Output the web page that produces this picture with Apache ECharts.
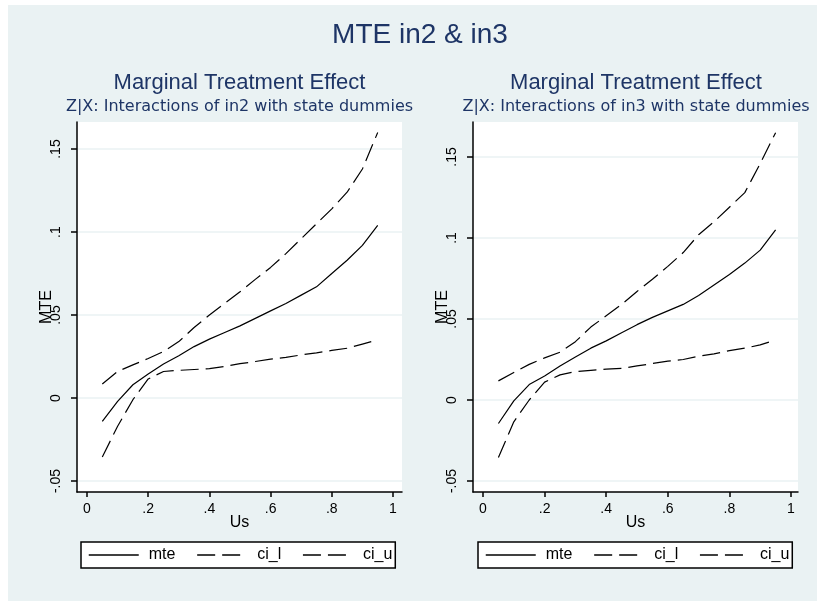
<!DOCTYPE html>
<html>
<head>
<meta charset="utf-8">
<title>MTE in2 & in3</title>
<script src="https://cdn.jsdelivr.net/npm/echarts@6/dist/echarts.min.js"></script>
<style>
  html, body { margin: 0; padding: 0; background: #fff; }
  #chart { width: 817px; height: 601px; }
</style>
</head>
<body>
<div id="chart"></div>
<script>
// grid of Us values the MTE was evaluated on
const us = [0.05, 0.10, 0.15, 0.20, 0.25, 0.30, 0.35, 0.40, 0.45, 0.50,
            0.55, 0.60, 0.65, 0.70, 0.75, 0.80, 0.85, 0.90, 0.95]

// left panel: Z|X = in2 x state dummies
const mteIn2 = [-0.014, -0.002, 0.008, 0.0145, 0.0205, 0.0255, 0.031, 0.0355, 0.0395, 0.0435,
                0.048, 0.0525, 0.057, 0.062, 0.067, 0.075, 0.083, 0.092, 0.104]
const ciLIn2 = [-0.0355, -0.017, -0.001, 0.0115, 0.016, 0.0167, 0.0172, 0.0177, 0.019, 0.0207,
                0.022, 0.0235, 0.0245, 0.026, 0.0272, 0.0287, 0.030, 0.0325, 0.035]
const ciUIn2 = [0.0085, 0.016, 0.020, 0.0238, 0.028, 0.034, 0.0425, 0.050, 0.057, 0.064,
                0.0715, 0.0787, 0.087, 0.096, 0.105, 0.114, 0.124, 0.138, 0.160]

// right panel: Z|X = in3 x state dummies
const mteIn3 = [-0.0145, -0.0005, 0.0095, 0.0148, 0.021, 0.0265, 0.032, 0.0365, 0.0415, 0.0465,
                0.051, 0.055, 0.059, 0.0645, 0.071, 0.0775, 0.0845, 0.0925, 0.105]
const ciLIn3 = [-0.0355, -0.0135, 0.000, 0.011, 0.0155, 0.0175, 0.0183, 0.019, 0.0195, 0.021,
                0.0225, 0.024, 0.025, 0.027, 0.0285, 0.0305, 0.032, 0.034, 0.037]
const ciUIn3 = [0.0118, 0.017, 0.022, 0.026, 0.0295, 0.036, 0.045, 0.052, 0.059, 0.067,
                0.0745, 0.0825, 0.091, 0.102, 0.110, 0.119, 0.128, 0.146, 0.165]

const xTicks = [0, 0.2, 0.4, 0.6, 0.8, 1]
const yTicks = [-0.05, 0, 0.05, 0.1, 0.15]
const seriesNames = ['mte', 'ci_l', 'ci_u']

const FONT = '"Liberation Sans", Arial, sans-serif'
const NAVY = '#1e3566'
const BG = '#eaf2f3'

// stata style labels: .2, -.05, 0, 1
function stataNum(v) {
  return String(+v.toFixed(2)).replace('0.', '.')
}

function pairs(ys) {
  return us.map((u, i) => [u, ys[i]])
}

const panels = [
  { sub: 'Z|X: Interactions of in2 with state dummies', left: 77, xr: [-0.0327, 1.0294], yr: [-0.0566, 0.1663],
    lines: [mteIn2, ciLIn2, ciUIn2], cx: 239.5, legendLeft: 81 },
  { sub: 'Z|X: Interactions of in3 with state dummies', left: 473, xr: [-0.0325, 1.0227], yr: [-0.0568, 0.1716],
    lines: [mteIn3, ciLIn3, ciUIn3], cx: 636, legendLeft: 478 }
]

const titles = [{
  text: 'MTE in2 & in3', left: 420, top: 21, textAlign: 'center', padding: 0,
  textStyle: { fontFamily: FONT, fontSize: 28, fontWeight: 'normal', color: NAVY }
}]
const grids = [], xAxes = [], yAxes = [], series = [], legends = []

panels.forEach((p, k) => {
  titles.push({
    text: 'Marginal Treatment Effect', left: p.cx, top: 72, textAlign: 'center', padding: 0,
    textStyle: { fontFamily: FONT, fontSize: 22, fontWeight: 'normal', color: NAVY }
  })
  titles.push({
    text: p.sub, left: p.cx, top: 99, textAlign: 'center', padding: 0,
    textStyle: { fontFamily: '"DejaVu Sans", sans-serif', fontSize: 16, fontWeight: 'normal', color: NAVY }
  })
  grids.push({
    left: p.left, top: 122, width: 325, height: 370,
    show: true, backgroundColor: '#fff', borderWidth: 0
  })
  xAxes.push({
    type: 'value', gridIndex: k, min: p.xr[0], max: p.xr[1],
    name: 'Us', nameLocation: 'middle', nameGap: 23, nameMoveOverlap: false,
    nameTextStyle: { fontFamily: FONT, fontSize: 16, color: '#000' },
    axisLine: { onZero: false, lineStyle: { color: '#000', width: 1.5 } },
    axisTick: { customValues: xTicks, length: 5, lineStyle: { color: '#000', width: 1.5 } },
    axisLabel: { customValues: xTicks, margin: 10, formatter: stataNum,
      fontFamily: FONT, fontSize: 14, color: '#000' },
    splitLine: { show: false }
  })
  yAxes.push({
    type: 'value', gridIndex: k, min: p.yr[0], max: p.yr[1],
    name: 'MTE', nameLocation: 'middle', nameGap: 22, nameMoveOverlap: false,
    nameTextStyle: { fontFamily: FONT, fontSize: 16, color: '#000' },
    axisLine: { onZero: false, lineStyle: { color: '#000', width: 1.5 } },
    axisTick: { customValues: yTicks, length: 6, lineStyle: { color: '#000', width: 1.5 } },
    axisLabel: { customValues: yTicks, rotate: 90, margin: 14, formatter: stataNum,
      fontFamily: FONT, fontSize: 14, color: '#000' },
    splitLine: { show: true, lineStyle: { color: BG, width: 1.5 } }
  })
  p.lines.forEach((ys, j) => {
    series.push({
      name: seriesNames[j], type: 'line', xAxisIndex: k, yAxisIndex: k,
      data: pairs(ys), symbol: 'none', smooth: false,
      lineStyle: { color: '#000', width: 1.2, type: j === 0 ? 'solid' : [18, 7] },
      itemStyle: { color: '#000' }
    })
  })
  legends.push({
    left: p.legendLeft, top: 542, orient: 'horizontal',
    data: seriesNames, itemWidth: 50, itemHeight: 14, itemGap: 21,
    padding: [5, 3, 5, 7], backgroundColor: '#fff', borderColor: '#000', borderWidth: 1.5,
    borderRadius: 0, selectedMode: false,
    // hide the marker dot, keep only the line sample
    itemStyle: { color: 'rgba(0,0,0,0)', borderColor: 'rgba(0,0,0,0)', borderWidth: 0 },
    lineStyle: { width: 1.5 },
    textStyle: { fontFamily: FONT, fontSize: 16, color: '#000', padding: [0, 0, 0, 5] }
  })
})

const chart = echarts.init(document.getElementById('chart'))
chart.setOption({
  backgroundColor: BG,
  animation: false,
  title: titles,
  grid: grids,
  xAxis: xAxes,
  yAxis: yAxes,
  legend: legends,
  series: series,
  graphic: [
    { type: 'rect', left: 0, top: 0, shape: { width: 8, height: 601 }, style: { fill: '#fff' }, silent: true },
    { type: 'rect', left: 0, top: 0, shape: { width: 817, height: 5 }, style: { fill: '#fff' }, silent: true }
  ]
})
</script>
</body>
</html>
